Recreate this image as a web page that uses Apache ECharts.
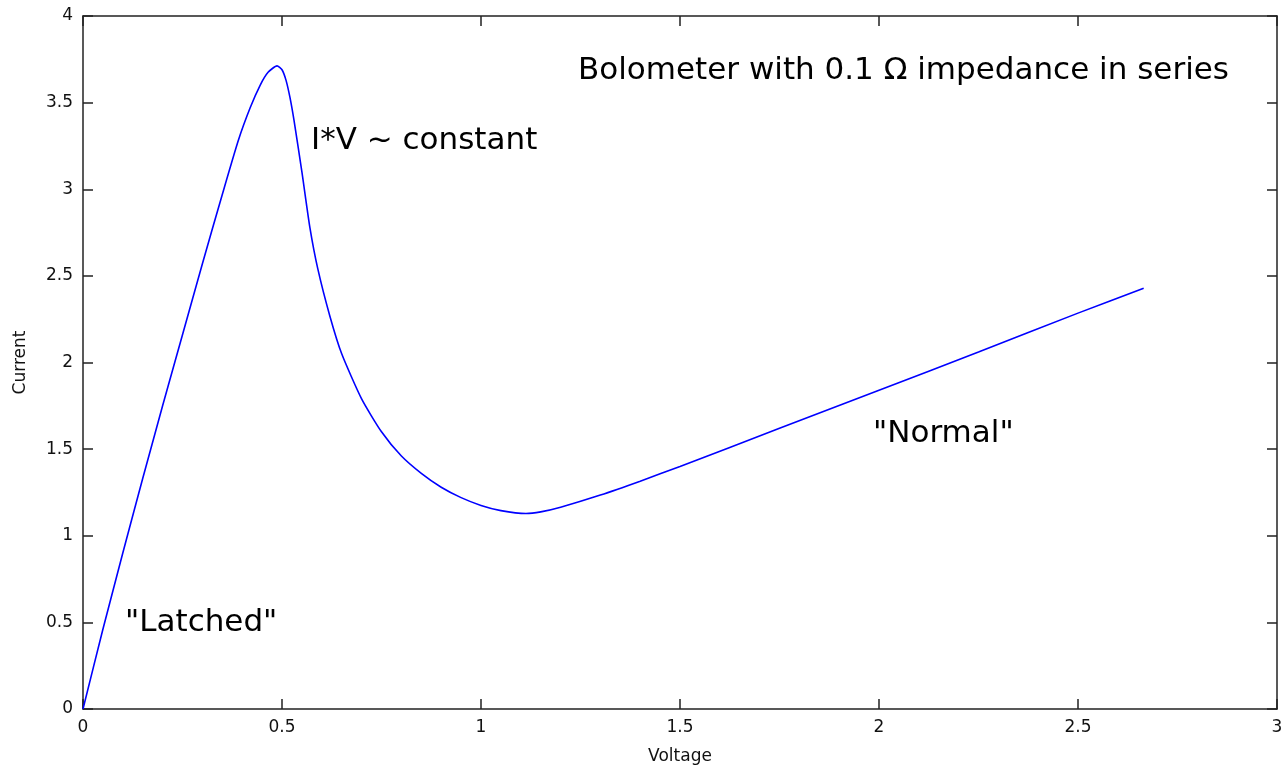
<!DOCTYPE html>
<html>
<head>
<meta charset="utf-8">
<script src="https://cdn.jsdelivr.net/npm/echarts@6/dist/echarts.min.js"></script>
<style>
    html, body { margin: 0; padding: 0; background: #fff; }
    #chart { width: 1288px; height: 770px; }
</style>
</head>
<body>
<div id="chart"></div>
<script>
// 读图得到的数据 (Voltage, Current)
var voltage = [0, 0.05, 0.10, 0.15, 0.20, 0.25, 0.30, 0.35, 0.39, 0.42, 0.445, 0.465, 0.4875,
    0.50, 0.51, 0.52, 0.53, 0.55, 0.57, 0.59, 0.62, 0.65, 0.70, 0.75, 0.80, 0.85, 0.90, 0.95,
    1.00, 1.05, 1.113, 1.15, 1.20, 1.30, 1.40, 1.50, 1.75, 2.00, 2.25, 2.50, 2.665];
var current = [0, 0.46, 0.90, 1.33, 1.75, 2.16, 2.57, 2.97, 3.28, 3.47, 3.60, 3.675, 3.712,
    3.69, 3.63, 3.53, 3.40, 3.10, 2.78, 2.54, 2.27, 2.05, 1.79, 1.60, 1.46, 1.36, 1.28, 1.22,
    1.175, 1.145, 1.128, 1.138, 1.165, 1.235, 1.315, 1.40, 1.62, 1.84, 2.06, 2.285, 2.429];

var xTicks = [0, 0.5, 1, 1.5, 2, 2.5, 3];
var yTicks = [0, 0.5, 1, 1.5, 2, 2.5, 3, 3.5, 4];

var notes = [
    { text: 'Bolometer with 0.1 Ω impedance in series', x: 578, y: 71 },
    { text: 'I*V ~ constant', x: 311, y: 141 },
    { text: '"Latched"', x: 125, y: 623 },
    { text: '"Normal"', x: 873, y: 434 }
];

var pts = voltage.map(function (v, i) { return [v, current[i]]; });

var chart = echarts.init(document.getElementById('chart'));

var lineStyle = { color: '#222', width: 1.5 };
var labelStyle = { color: '#111', fontSize: 17, fontFamily: 'DejaVu Sans' };

function axisBase(min, max, step) {
    return {
        type: 'value',
        min: min,
        max: max,
        interval: step,
        splitLine: { show: false },
        axisLine: { show: true, onZero: false, lineStyle: lineStyle },
        axisTick: { show: true, inside: true, length: 10, lineStyle: lineStyle }
    };
}

var xMain = axisBase(xTicks[0], xTicks[xTicks.length - 1], 0.5);
xMain.position = 'bottom';
xMain.name = 'Voltage';
xMain.nameLocation = 'middle';
xMain.nameGap = 39;
xMain.nameTextStyle = labelStyle;
xMain.axisLabel = Object.assign({ margin: 10 }, labelStyle);

var xTop = axisBase(xTicks[0], xTicks[xTicks.length - 1], 0.5);
xTop.position = 'top';
xTop.axisLabel = { show: false };

var yMain = axisBase(yTicks[0], yTicks[yTicks.length - 1], 0.5);
yMain.position = 'left';
yMain.name = 'Current';
yMain.nameLocation = 'middle';
yMain.nameGap = 54;
yMain.nameTextStyle = labelStyle;
yMain.axisLabel = Object.assign({ margin: 10 }, labelStyle);

var yRight = axisBase(yTicks[0], yTicks[yTicks.length - 1], 0.5);
yRight.position = 'right';
yRight.axisLabel = { show: false };

var option = {
    animation: false,
    backgroundColor: '#fff',
    grid: { left: 83, top: 16, right: 11, bottom: 59 },
    xAxis: [xMain, xTop],
    yAxis: [yMain, yRight],
    series: [{
        type: 'line',
        data: pts,
        xAxisIndex: 0,
        yAxisIndex: 0,
        showSymbol: false,
        smooth: 0.2,
        lineStyle: { color: '#0000ff', width: 1.6 }
    }],
    // 图中的文字注释
    graphic: notes.map(function (n) {
        return {
            type: 'text',
            x: n.x,
            y: n.y,
            style: {
                text: n.text,
                fill: '#000',
                verticalAlign: 'middle',
                font: '31px "DejaVu Sans"'
            }
        };
    })
};

chart.setOption(option);
</script>
</body>
</html>
